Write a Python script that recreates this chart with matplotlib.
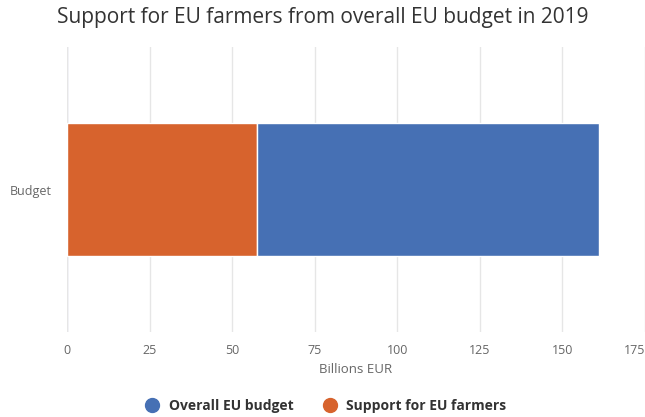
import matplotlib
matplotlib.use("Agg")
import matplotlib.pyplot as plt
from matplotlib.lines import Line2D

# data (billions EUR)
categories = ["Budget"]
overall_budget = [161.0]
farmers_support = [57.6]
x_ticks = [0, 25, 50, 75, 100, 125, 150, 175]

blue = "#4670b4"
orange = "#d7632d"

plt.rcParams['font.family'] = ['Open Sans', 'DejaVu Sans']

fig = plt.figure(figsize=(6.45, 4.17), dpi=100)
ax = fig.add_axes([67 / 645, 1 - 332 / 417, 1 - 67 / 645, (332 - 47) / 417])

rest = [o - f for o, f in zip(overall_budget, farmers_support)]
ax.barh(categories, farmers_support, height=0.47, color=orange,
        edgecolor="white", linewidth=1, zorder=3)
ax.barh(categories, rest, left=farmers_support, height=0.47, color=blue,
        edgecolor="white", linewidth=1, zorder=3)

ax.set_xlim(0, 175)
ax.set_ylim(-0.5, 0.5)
ax.set_xticks(x_ticks)
ax.set_xticklabels([str(t) for t in x_ticks])
labs = ax.get_xticklabels()
labs[-1].set_horizontalalignment("right")
ax.tick_params(axis="x", length=0, pad=9, labelsize=9, labelcolor="#666666")
ax.tick_params(axis="y", length=0, pad=11, labelsize=9, labelcolor="#666666")

ax.grid(axis="x", color="#e6e6e6", linewidth=1, zorder=0)
ax.axvline(0, color="#ccd6eb", linewidth=1, zorder=1)
for s in ax.spines.values():
    s.set_visible(False)

ax.set_xlabel("Billions EUR", fontsize=9.5, color="#666666", labelpad=4)

fig.text(0.5, 1 - 17 / 417, "Support for EU farmers from overall EU budget in 2019",
         ha="center", va="center", fontsize=15, color="#333333")

handles = [
    Line2D([], [], marker="o", linestyle="", markersize=10, color=blue),
    Line2D([], [], marker="o", linestyle="", markersize=10, color=orange),
]
fig.legend(handles, ["Overall EU budget", "Support for EU farmers"],
           loc="center", bbox_to_anchor=(0.5, 1 - 406 / 417), ncol=2,
           frameon=False, handletextpad=0.2, columnspacing=1.6,
           prop={"size": 10, "weight": "bold"}, labelcolor="#333333")

fig.savefig("out.png", dpi=100)
